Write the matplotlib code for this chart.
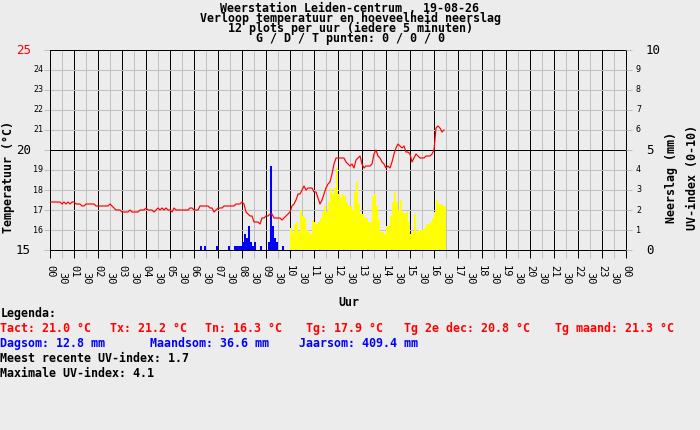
import matplotlib
matplotlib.use("Agg")
import matplotlib.pyplot as plt
from matplotlib.transforms import ScaledTranslation

plt.rcParams["font.family"] = ["DejaVu Sans Mono"]

W, H, DPI = 700, 430, 100
BG = "#ECECEC"
GRID = "#C0C0C0"
LW = 0.72  # 1 pixel in points

title_lines = [
    "Weerstation Leiden-centrum , 19-08-26",
    "Verloop temperatuur en hoeveelheid neerslag",
    "12 plots per uur (iedere 5 minuten)",
    "G / D / T punten: 0 / 0 / 0",
]
hour_labels = ["00", "01", "02", "03", "04", "05", "06", "07", "08", "09", "10", "11",
               "12", "13", "14", "15", "16", "17", "18", "19", "20", "21", "22", "23", "00"]
half_label = "30"
temp_ticks = [15, 16, 17, 18, 19, 20, 21, 22, 23, 24, 25]
rain_ticks = [0, 1, 2, 3, 4, 5, 6, 7, 8, 9, 10]

# temperature every 5 minutes from 00:00
temperature = [
    17.4, 17.4, 17.4, 17.4, 17.4, 17.4, 17.3, 17.4, 17.3, 17.4, 17.3, 17.4,
    17.4, 17.3, 17.3, 17.3, 17.2, 17.2, 17.3, 17.3, 17.3, 17.3, 17.3, 17.2,
    17.2, 17.2, 17.2, 17.2, 17.2, 17.2, 17.3, 17.2, 17.1, 17.0, 17.0, 17.0,
    16.9, 16.9, 16.9, 16.9, 17.0, 16.9, 16.9, 16.9, 16.9, 17.0, 17.0, 17.0,
    17.1, 17.0, 17.0, 17.0, 16.9, 17.0, 17.1, 17.0, 17.1, 17.0, 17.1, 17.0,
    17.0, 16.9, 17.1, 17.0, 17.0, 17.0, 17.0, 17.0, 17.0, 17.0, 17.1, 17.1,
    17.0, 17.0, 17.0, 17.2, 17.2, 17.2, 17.2, 17.2, 17.1, 17.1, 16.9, 17.0,
    17.1, 17.1, 17.1, 17.2, 17.2, 17.2, 17.2, 17.2, 17.2, 17.3, 17.3, 17.3,
    17.4, 17.3, 16.9, 16.8, 16.7, 16.7, 16.4, 16.4, 16.4, 16.3, 16.6, 16.6,
    16.7, 16.7, 16.8, 16.8, 16.6, 16.6, 16.6, 16.6, 16.5, 16.6, 16.7, 16.8,
    16.9, 17.2, 17.3, 17.5, 17.8, 17.8, 18.0, 18.2, 18.0, 18.1, 18.1, 18.1,
    17.9, 17.9, 17.6, 17.3, 17.5, 17.8, 18.1, 18.3, 18.4, 18.8, 19.3, 19.6,
    19.6, 19.6, 19.6, 19.6, 19.4, 19.3, 19.2, 19.3, 19.1, 19.5, 19.6, 19.7,
    19.3, 19.1, 19.2, 19.2, 19.2, 19.3, 19.8, 20.0, 19.7, 19.6, 19.4, 19.3,
    19.1, 19.2, 19.1, 19.4, 19.8, 20.1, 20.3, 20.2, 20.1, 20.2, 19.9, 19.9,
    19.8, 19.4, 19.6, 19.8, 19.7, 19.6, 19.6, 19.6, 19.7, 19.7, 19.7, 19.8,
    20.0, 21.1, 21.2, 21.1, 20.9, 21.0,
]

rain_times = ["06:15", "06:25", "06:55", "07:25", "07:40", "07:45", "07:50", "07:55",
              "08:00", "08:05", "08:10", "08:15", "08:20", "08:25", "08:30", "08:45",
              "09:05", "09:10", "09:15", "09:20", "09:25", "09:40"]
rain_mm = [0.2, 0.2, 0.2, 0.2, 0.2, 0.2, 0.2, 0.2,
           0.4, 0.8, 0.6, 1.2, 0.4, 0.2, 0.4, 0.2,
           0.4, 4.2, 1.2, 0.6, 0.4, 0.2]

uv_start = "10:00"
uv_index = [
    1.1, 0.9, 1.3, 1.4, 0.9, 2.0, 1.7, 1.6, 1.0, 0.9, 0.8, 1.5,
    1.4, 1.3, 1.4, 1.6, 1.9, 2.2, 1.9, 2.4, 3.1, 2.8, 3.1, 4.1,
    2.8, 2.6, 2.8, 2.7, 2.4, 2.2, 2.2, 2.0, 2.9, 3.4, 2.3, 1.8,
    1.8, 1.6, 1.6, 1.4, 1.4, 2.7, 2.8, 2.2, 1.5, 0.9, 0.9, 0.8,
    1.2, 1.2, 1.7, 2.4, 2.9, 2.4, 2.0, 2.5, 1.9, 1.8, 1.9, 1.4,
    0.8, 0.9, 1.8, 0.9, 1.0, 1.0, 1.0, 1.1, 1.3, 1.3, 1.4, 1.6,
    1.9, 2.5, 2.3, 2.3, 2.2, 2.2,
]

legend_title = "Legenda:"
temp_legend = ["Tact: 21.0 °C", "Tx: 21.2 °C", "Tn: 16.3 °C", "Tg: 17.9 °C",
               "Tg 2e dec: 20.8 °C", "Tg maand: 21.3 °C"]
rain_legend = ["Dagsom: 12.8 mm", "Maandsom: 36.6 mm", "Jaarsom: 409.4 mm"]
uv_lines = ["Meest recente UV-index: 1.7", "Maximale UV-index: 4.1"]


def to_hours(s):
    h, m = s.split(":")
    return int(h) + int(m) / 60.0


step = 5 / 60.0
temp_x = [i * step for i in range(len(temperature))]
rain_x = [to_hours(t) for t in rain_times]
uv_x = [to_hours(uv_start) + i * step for i in range(len(uv_index))]

fig = plt.figure(figsize=(W / DPI, H / DPI), dpi=DPI, facecolor=BG)
ax = fig.add_axes([50 / W, 1 - 250 / H, 576 / W, 200 / H])
ax2 = ax.twinx()
ax3 = ax.twinx()

ax.set_facecolor(BG)
ax.set_xlim(0, 24)
ax.set_ylim(15, 25)
for sp in ax.spines.values():
    sp.set_color("black")
    sp.set_linewidth(LW)

ax.set_xticks(range(25))
ax.set_xticklabels(hour_labels)
ax.set_xticks([h + 0.5 for h in range(24)], minor=True)
ax.set_xticklabels([half_label] * 24, minor=True)
ax.tick_params(axis="x", which="major", length=8 * LW, width=LW, color="black",
               labelsize=7.5, pad=7 * LW, labelrotation=270)
ax.tick_params(axis="x", which="minor", length=8 * LW, width=LW, color=GRID,
               labelsize=7.5, pad=14 * LW, labelrotation=270)

ax.set_yticks(temp_ticks)
ax.tick_params(axis="y", which="major", length=6 * LW, width=LW, color=GRID, labelleft=False)
ax.grid(True, which="major", axis="x", color="black", linewidth=LW)
ax.grid(True, which="minor", axis="x", color=GRID, linewidth=LW)
ax.grid(True, which="major", axis="y", color=GRID, linewidth=LW)
for tick, v in zip(ax.yaxis.get_major_ticks(), temp_ticks):
    if v in (15, 20, 25):
        tick.tick1line.set_color("black")
        tick.gridline.set_color("black")


def shift(dx):
    return ScaledTranslation(dx / DPI, 0, fig.dpi_scale_trans)


for v in temp_ticks:
    big = v in (15, 20, 25)
    ax.text(0, v, str(v), transform=ax.get_yaxis_transform() + shift(-19 if big else -7),
            ha="right", va="center", fontsize=9 if big else 6,
            color="red" if v == 25 else "black")

# rain / UV axis
ax2.set_ylim(0, 10)
ax2.set_yticks(rain_ticks)
ax2.tick_params(axis="y", which="major", left=False, right=True, length=6 * LW, width=LW,
                color=GRID, labelright=False, labelleft=False)
for tick, v in zip(ax2.yaxis.get_major_ticks(), rain_ticks):
    if v in (0, 5, 10):
        tick.tick2line.set_color("black")
for sp in ax2.spines.values():
    sp.set_visible(False)
for v in rain_ticks:
    big = v in (0, 5, 10)
    ax2.text(1, v, str(v), transform=ax2.get_yaxis_transform() + shift(20 if big else 10),
             ha="left", va="center", fontsize=9 if big else 6, color="black")

ax2.bar(rain_x, rain_mm, width=step, align="edge", color="#0000FF", linewidth=0,
        antialiased=False)
ax2.bar(uv_x, uv_index, width=step, align="edge", color="#FFFF00", linewidth=0,
        antialiased=False)

ax3.set_ylim(15, 25)
ax3.set_xlim(0, 24)
ax3.axis("off")
ax3.plot(temp_x, temperature, color="#FF0000", linewidth=0.85)

# titles (one multi-line text block, tight line pitch as in the reference)
bold = dict(fontweight="bold", fontsize=8.4)
fig.text(350 / W, 1 - 1.8 / H, "\n".join(title_lines), ha="center", va="top",
         multialignment="center", linespacing=0.69, **bold)

fig.text(8.5 / W, 1 - 177 / H, "Temperatuur (°C)", rotation=90, ha="center", va="center", **bold)
fig.text(671.5 / W, 1 - 177.5 / H, "Neerslag (mm)", rotation=90, ha="center", va="center", **bold)
fig.text(692.5 / W, 1 - 177.5 / H, "UV-index (0-10)", rotation=90, ha="center", va="center", **bold)
fig.text(348.5 / W, 1 - 306 / H, "Uur", ha="center", va="baseline", **bold)

# legend block
fig.text(0.5 / W, 1 - 317 / H, legend_title, ha="left", va="baseline", color="black", **bold)
for s, x in zip(temp_legend, [0.5, 110, 205, 306, 404, 555]):
    fig.text(x / W, 1 - 332 / H, s, ha="left", va="baseline", color="#FF0000", **bold)
for s, x in zip(rain_legend, [0.5, 150, 299]):
    fig.text(x / W, 1 - 347 / H, s, ha="left", va="baseline", color="#0000FF", **bold)
for k, s in enumerate(uv_lines):
    fig.text(0.5 / W, 1 - (362 + 15 * k) / H, s, ha="left", va="baseline", color="black", **bold)

fig.savefig("out.png", dpi=DPI, facecolor=BG)
